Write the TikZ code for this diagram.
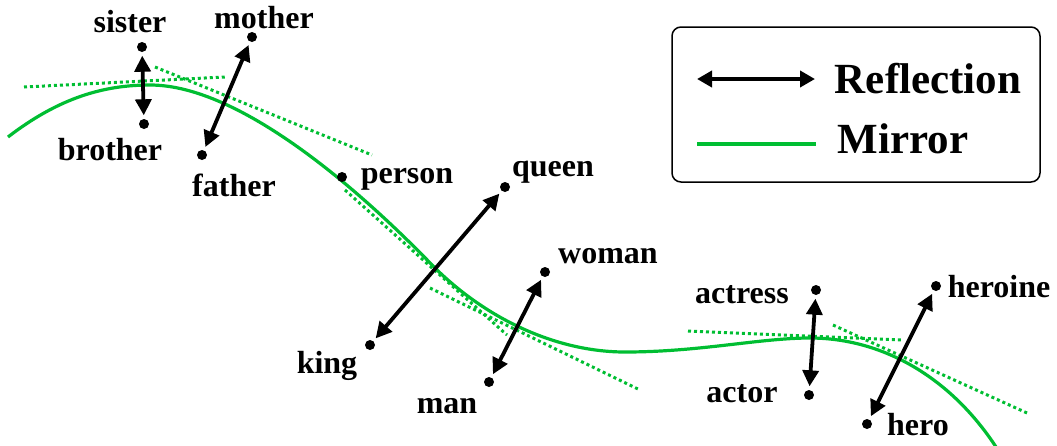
\documentclass[tikz,border=0pt]{standalone}
\usepackage{fontspec}
\setmainfont{Liberation Serif}
\usetikzlibrary{arrows.meta}
\definecolor{mirrorgreen}{RGB}{0,190,50}
\begin{document}
\begin{tikzpicture}[x=1pt,y=-1pt,
  word/.style={anchor=base,inner sep=0pt,font=\bfseries\fontsize{32}{35}\selectfont},
  legendtext/.style={anchor=base,inner sep=0pt,font=\bfseries\fontsize{43}{46}\selectfont},
  pt/.style={circle,fill=black,inner sep=0pt,minimum size=10pt},
  reflect/.style={line width=3.8pt,{Triangle[length=16pt,width=16pt]}-{Triangle[length=16pt,width=16pt]},shorten <=3.5pt,shorten >=3.5pt},
  mirror/.style={mirrorgreen,line width=3.2pt},
  tangent/.style={mirrorgreen,line width=3pt,dash pattern=on 3pt off 3pt}]
\useasboundingbox (0,0) rectangle (1057,445);

% the mirror curve
\draw[mirror] (8,137) .. controls (60,97) and (105,85) .. (150,85)
  .. controls (240,85) and (360,190) .. (435,268)
  .. controls (490,322) and (560,352) .. (625,352)
  .. controls (700,352) and (760,338) .. (810,338)
  .. controls (880,338) and (950,375) .. (998,450);

% local tangents of the mirror
\coordinate (t1a) at (24,87);   \coordinate (t1b) at (225,77);
\coordinate (t2a) at (155,67);  \coordinate (t2b) at (372,155);
\coordinate (t3a) at (345,190); \coordinate (t3b) at (507,335);
\coordinate (t4a) at (430,288); \coordinate (t4b) at (640,390);
\coordinate (t5a) at (688,331); \coordinate (t5b) at (903,340);
\coordinate (t6a) at (833,325); \coordinate (t6b) at (1027,413);
\foreach \i in {1,...,6} \draw[tangent] (t\i a) -- (t\i b);

% word points
\node[pt] (sister)  at (142,47) {};
\node[pt] (brother) at (144,124) {};
\node[pt] (mother)  at (252,37) {};
\node[pt] (father)  at (202,155) {};
\node[pt] (person)  at (342,177) {};
\node[pt] (queen)   at (505,187) {};
\node[pt] (king)    at (370,345) {};
\node[pt] (woman)   at (545,272) {};
\node[pt] (man)     at (489,382) {};
\node[pt] (actress) at (816,290) {};
\node[pt] (actor)   at (809,395) {};
\node[pt] (heroine) at (936,286) {};
\node[pt] (hero)    at (867,424) {};

% labels
\node[word] (lsister)  at (130,32)  {sister};
\node[word] (lbrother) at (110,160) {brother};
\node[word] (lmother)  at (264,28)  {mother};
\node[word] (lfather)  at (234,196) {father};
\node[word] (lperson)  at (407,183) {person};
\node[word] (lqueen)   at (553,176) {queen};
\node[word] (lking)    at (327,373) {king};
\node[word] (lwoman)   at (608,263) {woman};
\node[word] (lman)     at (447,413) {man};
\node[word] (lactress) at (742,303) {actress};
\node[word] (lactor)   at (742,402) {actor};
\node[word] (lheroine) at (999,297) {heroine};
\node[word] (lhero)    at (918,435) {hero};

% reflections
\draw[reflect] (sister) -- (brother);
\draw[reflect] (mother) -- (father);
\draw[reflect] (queen) -- (king);
\draw[reflect] (woman) -- (man);
\draw[reflect] (actress) -- (actor);
\draw[reflect] (heroine) -- (hero);

% legend
\draw[line width=1.5pt,rounded corners=9pt] (672,27) rectangle (1040,182);
\coordinate (la) at (697,79);
\coordinate (lb) at (815,79);
\coordinate (ma) at (697,144);
\coordinate (mb) at (816,144);
\draw[line width=3.8pt,{Triangle[length=15pt,width=16pt]}-{Triangle[length=15pt,width=16pt]}] (la) -- (lb);
\draw[mirrorgreen,line width=4.5pt] (ma) -- (mb);
\node[legendtext] (lref) at (928,93) {Reflection};
\node[legendtext] (lmir) at (903,153) {Mirror};
\end{tikzpicture}
\end{document}
